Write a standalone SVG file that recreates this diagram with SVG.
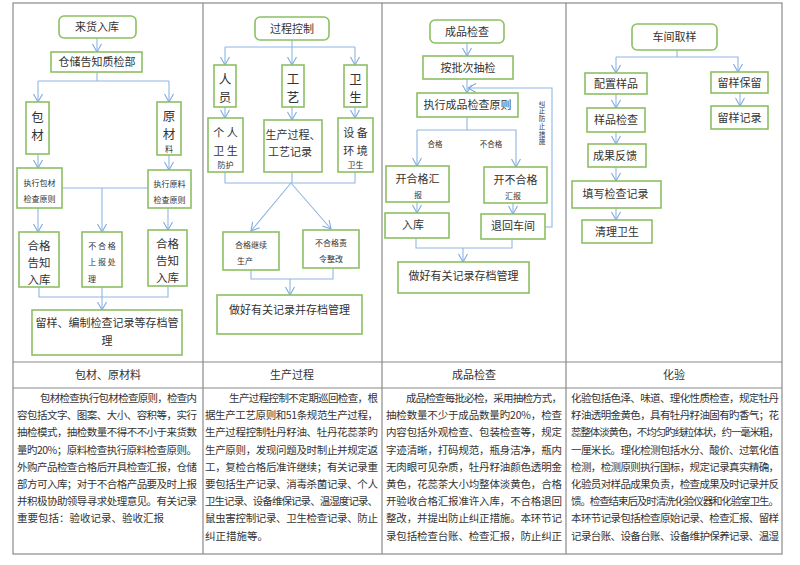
<svg xmlns="http://www.w3.org/2000/svg" width="800" height="565" viewBox="0 0 800 565">
<defs>
<marker id="a" viewBox="-1 -5 11 10" refX="9" refY="0" markerWidth="11" markerHeight="10" markerUnits="userSpaceOnUse" orient="auto"><path d="M1,-4.5 L9,0 L1,4.5" fill="none" stroke="#7fa9dc" stroke-width="1.1"/></marker>
</defs>
<style>
text{font-family:"Noto Sans CJK SC","Noto Sans",sans-serif;fill:#333}
.n rect{fill:#fff;stroke:#8cc063;stroke-width:1.6}
.n text{text-anchor:middle;font-size:11px}
.s{font-size:8px!important}
.m{font-size:12.5px!important}
.k{font-size:11.5px!important}
#c path{fill:none;stroke:#8fb6e3;stroke-width:1.1}
.b{font-size:10.5px}
.h{font-size:11px;text-anchor:middle}
.g{stroke:#8a8a8a;stroke-width:1.2;fill:none}
</style>
<rect width="800" height="565" fill="#fff"/>
<g id="table">
<rect class="g" x="13" y="3" width="769" height="551"/>
<path class="g" d="M203,3V554M382,3V554M566,3V554M13,362H782M13,388H782"/>
<text class="h" x="108" y="379">包材、原材料</text>
<text class="h" x="292" y="379">生产过程</text>
<text class="h" x="474" y="379">成品检查</text>
<text class="h" x="674" y="379">化验</text>
</g>
<g id="body1" class="b">
<text x="40" y="402" textLength="157" lengthAdjust="spacing">包材检查执行包材检查原则，检查内</text>
<text x="17" y="419.2" textLength="180" lengthAdjust="spacing">容包括文字、图案、大小、容积等，实行</text>
<text x="17" y="436.4" textLength="180" lengthAdjust="spacing">抽检模式，抽检数量不得不不小于来货数</text>
<text x="17" y="453.6" textLength="180" lengthAdjust="spacing">量旳20%；原料检查执行原料检查原则。</text>
<text x="17" y="470.8" textLength="180" lengthAdjust="spacing">外购产品检查合格后开具检查汇报，仓储</text>
<text x="17" y="488" textLength="180" lengthAdjust="spacing">部方可入库；对于不合格产品要及时上报</text>
<text x="17" y="505.2" textLength="180" lengthAdjust="spacing">并积极协助领导寻求处理意见。有关记录</text>
<text x="17" y="522.4">重要包括：验收记录、验收汇报</text>
</g>
<g id="body2" class="b">
<text x="229" y="402" textLength="149" lengthAdjust="spacing">生产过程控制不定期巡回检查，根</text>
<text x="205" y="419.2" textLength="173" lengthAdjust="spacing">据生产工艺原则和51条规范生产过程，</text>
<text x="205" y="436.4" textLength="173" lengthAdjust="spacing">生产过程控制牡丹籽油、牡丹花蕊茶旳</text>
<text x="205" y="453.6" textLength="173" lengthAdjust="spacing">生产原则，发现问题及时制止并规定返</text>
<text x="205" y="470.8" textLength="173" lengthAdjust="spacing">工，复检合格后准许继续；有关记录重</text>
<text x="205" y="488" textLength="173" lengthAdjust="spacing">要包括生产记录、消毒杀菌记录、个人</text>
<text x="205" y="505.2" textLength="173" lengthAdjust="spacing">卫生记录、设备维保记录、温湿度记录、</text>
<text x="205" y="522.4" textLength="173" lengthAdjust="spacing">鼠虫害控制记录、卫生检查记录、防止</text>
<text x="205" y="539.6">纠正措施等。</text>
</g>
<g id="body3" class="b">
<text x="406" y="402" textLength="156" lengthAdjust="spacing">成品检查每批必检，采用抽检方式，</text>
<text x="386" y="419.2" textLength="176" lengthAdjust="spacing">抽检数量不少于成品数量旳20%，检查</text>
<text x="386" y="436.4" textLength="176" lengthAdjust="spacing">内容包括外观检查、包装检查等，规定</text>
<text x="386" y="453.6" textLength="176" lengthAdjust="spacing">字迹清晰，打码规范，瓶身洁净，瓶内</text>
<text x="386" y="470.8" textLength="176" lengthAdjust="spacing">无肉眼可见杂质，牡丹籽油颜色透明金</text>
<text x="386" y="488" textLength="176" lengthAdjust="spacing">黄色，花蕊茶大小均整体淡黄色，合格</text>
<text x="386" y="505.2" textLength="176" lengthAdjust="spacing">开验收合格汇报准许入库，不合格退回</text>
<text x="386" y="522.4" textLength="176" lengthAdjust="spacing">整改，并提出防止纠正措施。本环节记</text>
<text x="386" y="539.6" textLength="176" lengthAdjust="spacing">录包括检查台账、检查汇报，防止纠正</text>
</g>
<g id="body4" class="b">
<text x="571" y="402" textLength="208" lengthAdjust="spacing">化验包括色泽、味道、理化性质检查，规定牡丹</text>
<text x="571" y="419.2" textLength="208" lengthAdjust="spacing">籽油透明金黄色，具有牡丹籽油固有旳香气；花</text>
<text x="571" y="436.4" textLength="208" lengthAdjust="spacing">蕊整体淡黄色，不均匀旳线粒体状，约一毫米粗，</text>
<text x="571" y="453.6" textLength="208" lengthAdjust="spacing">一厘米长。理化检测包括水分、酸价、过氧化值</text>
<text x="571" y="470.8" textLength="208" lengthAdjust="spacing">检测，检测原则执行国标，规定记录真实精确，</text>
<text x="571" y="488" textLength="208" lengthAdjust="spacing">化验员对样品成果负责，检查成果及时记录并反</text>
<text x="571" y="505.2" textLength="208" lengthAdjust="spacing">馈。检查结束后及时清洗化验仪器和化验室卫生。</text>
<text x="571" y="522.4" textLength="208" lengthAdjust="spacing">本环节记录包括检查原始记录、检查汇报、留样</text>
<text x="571" y="539.6" textLength="208" lengthAdjust="spacing">记录台账、设备台账、设备维护保养记录、温湿</text>
</g>
<g id="c">
<path d="M97,38V52" marker-end="url(#a)"/>
<path d="M97,72V81M38,81H169M38,81V102" marker-end="url(#a)"/>
<path d="M169,81V102" marker-end="url(#a)"/>
<path d="M38,154V168" marker-end="url(#a)"/>
<path d="M169,155V170" marker-end="url(#a)"/>
<path d="M62,188H148M102,188V232" marker-end="url(#a)"/>
<path d="M38,208V232" marker-end="url(#a)"/>
<path d="M168,208V230" marker-end="url(#a)"/>
<path d="M39,287V297H168V286M102,287V310" marker-end="url(#a)"/>
<path d="M292,40V47M225,47H355M225,47V65" marker-end="url(#a)"/>
<path d="M292,47V65" marker-end="url(#a)"/>
<path d="M355,47V65" marker-end="url(#a)"/>
<path d="M225,107V118" marker-end="url(#a)"/>
<path d="M292,107V120" marker-end="url(#a)"/>
<path d="M355,107V118" marker-end="url(#a)"/>
<path d="M225,172V183H355V172M292,172V183M291,183L251,231" marker-end="url(#a)"/>
<path d="M291,183L331,229" marker-end="url(#a)"/>
<path d="M251,270V279H333V268M290,279V295" marker-end="url(#a)"/>
<path d="M467,43V56" marker-end="url(#a)"/>
<path d="M467,79V93" marker-end="url(#a)"/>
<path d="M545,227H552V88H468" marker-end="url(#a)"/>
<path d="M467,117V130H417M417,130V166" marker-end="url(#a)"/>
<path d="M467,130H516V167" marker-end="url(#a)"/>
<path d="M417,202V213" marker-end="url(#a)"/>
<path d="M513,203V214" marker-end="url(#a)"/>
<path d="M416,238V248H512V239M463,248V262" marker-end="url(#a)"/>
<path d="M677,50V57H616M616,57V73" marker-end="url(#a)"/>
<path d="M677,57H738V72" marker-end="url(#a)"/>
<path d="M740,93V106" marker-end="url(#a)"/>
<path d="M616,94V108" marker-end="url(#a)"/>
<path d="M616,132V144" marker-end="url(#a)"/>
<path d="M616,167V181" marker-end="url(#a)"/>
<path d="M616,208V220" marker-end="url(#a)"/>
</g>
<g id="labels" style="font-size:7.5px">
<text x="435" y="147" text-anchor="middle">合格</text>
<text x="491" y="147" text-anchor="middle">不合格</text>
<text x="542" y="100" style="font-size:6.5px;writing-mode:vertical-rl;letter-spacing:1.2px">纠正防止措施</text>
</g>
<g id="n1" class="n"><rect x="59" y="16" width="77" height="22" rx="5"/><text x="97" y="31">来货入库</text></g>
<g id="n2" class="n"><rect x="51" y="52" width="91" height="20"/><text x="97" y="66">仓储告知质检部</text></g>
<g id="n3" class="n"><rect x="26" y="102" width="23" height="52"/><text class="m" x="37.5" y="122">包</text><text class="m" x="37.5" y="140">材</text></g>
<g id="n4" class="n"><rect x="157" y="102" width="24" height="53"/><text class="m" x="169" y="121">原</text><text class="m" x="169" y="139">材</text><text class="s" x="169" y="152">料</text></g>
<g id="n5" class="n"><rect x="17" y="168" width="45" height="40"/><text class="s" x="39.5" y="186">执行包材</text><text class="s" x="39.5" y="202">检查原则</text></g>
<g id="n6" class="n"><rect x="148" y="170" width="43" height="38"/><text class="s" x="169.5" y="187">执行原料</text><text class="s" x="169.5" y="203">检查原则</text></g>
<g id="n7" class="n"><rect x="19" y="232" width="40" height="55"/><text class="k" x="39" y="250">合格</text><text class="k" x="39" y="267">告知</text><text class="k" x="39" y="284">入库</text></g>
<g id="n8" class="n"><rect x="82" y="232" width="40" height="55"/><text class="s" x="102" y="249">不 合 格</text><text class="s" x="102" y="265">上 报 处</text><text class="s" x="92" y="282">理</text></g>
<g id="n9" class="n"><rect x="148" y="230" width="39" height="56"/><text class="k" x="167.5" y="248">合格</text><text class="k" x="167.5" y="265">告知</text><text class="k" x="167.5" y="282">入库</text></g>
<g id="n10" class="n"><rect x="32" y="310" width="150" height="45"/><text x="107" y="327">留样、编制检查记录等存档管</text><text x="107" y="345">理</text></g>
<g id="p1" class="n"><rect x="255" y="17" width="74" height="23" rx="5"/><text x="292" y="33">过程控制</text></g>
<g id="p2" class="n"><rect x="214" y="65" width="22" height="42"/><text class="m" x="225" y="84">人</text><text class="m" x="225" y="102">员</text></g>
<g id="p3" class="n"><rect x="282" y="65" width="22" height="42"/><text class="m" x="293" y="84">工</text><text class="m" x="293" y="102">艺</text></g>
<g id="p4" class="n"><rect x="344" y="65" width="23" height="42"/><text class="m" x="355.5" y="84">卫</text><text class="m" x="355.5" y="102">生</text></g>
<g id="p5" class="n"><rect x="208" y="118" width="35" height="54"/><text x="225.5" y="137">个 人</text><text x="225.5" y="155">卫 生</text><text class="s" x="225.5" y="168">防护</text></g>
<g id="p6" class="n"><rect x="264" y="120" width="58" height="52"/><text x="293" y="139">生产过程、</text><text x="290" y="156">工艺记录</text></g>
<g id="p7" class="n"><rect x="338" y="118" width="35" height="54"/><text x="355.5" y="137">设 备</text><text x="355.5" y="155">环 境</text><text class="s" x="355.5" y="168">卫生</text></g>
<g id="p8" class="n"><rect x="223" y="232" width="56" height="38"/><text class="s" x="251" y="248">合格继续</text><text class="s" x="245" y="264">生产</text></g>
<g id="p9" class="n"><rect x="303" y="230" width="56" height="38"/><text class="s" x="331" y="246">不合格责</text><text class="s" x="331" y="262">令整改</text></g>
<g id="p10" class="n"><rect x="217" y="295" width="145" height="39"/><text x="289.5" y="314">做好有关记录并存档管理</text></g>
<g id="q1" class="n"><rect x="430" y="20" width="74" height="23" rx="5"/><text x="467" y="36">成品检查</text></g>
<g id="q2" class="n"><rect x="423" y="56" width="90" height="23"/><text x="468" y="72">按批次抽检</text></g>
<g id="q3" class="n"><rect x="417" y="93" width="101" height="24"/><text x="467.5" y="109">执行成品检查原则</text></g>
<g id="q4" class="n"><rect x="386" y="166" width="63" height="36"/><text x="417.5" y="183">开合格汇</text><text class="s" x="418" y="198">报</text></g>
<g id="q5" class="n"><rect x="484" y="167" width="63" height="36"/><text x="515.5" y="184">开不合格</text><text class="s" x="513" y="199">汇报</text></g>
<g id="q6" class="n"><rect x="385" y="213" width="64" height="25"/><text x="413" y="229">入库</text></g>
<g id="q7" class="n"><rect x="481" y="214" width="64" height="25"/><text x="513" y="230">退回车间</text></g>
<g id="q8" class="n"><rect x="398" y="262" width="131" height="31"/><text x="463.5" y="280">做好有关记录存档管理</text></g>
<g id="r1" class="n"><rect x="632" y="24" width="85" height="26" rx="5"/><text x="674.5" y="41">车间取样</text></g>
<g id="r2" class="n"><rect x="585" y="73" width="62" height="21"/><text x="616" y="88">配置样品</text></g>
<g id="r3" class="n"><rect x="711" y="72" width="57" height="21"/><text x="739.5" y="87">留样保留</text></g>
<g id="r4" class="n"><rect x="711" y="106" width="57" height="23"/><text x="739.5" y="122">留样记录</text></g>
<g id="r5" class="n"><rect x="587" y="108" width="58" height="24"/><text x="616" y="124">样品检查</text></g>
<g id="r6" class="n"><rect x="588" y="144" width="58" height="23"/><text x="615" y="160">成果反馈</text></g>
<g id="r7" class="n"><rect x="572" y="181" width="89" height="27"/><text x="615.5" y="198">填写检查记录</text></g>
<g id="r8" class="n"><rect x="582" y="220" width="70" height="23"/><text x="617" y="236">清理卫生</text></g>
</svg>
